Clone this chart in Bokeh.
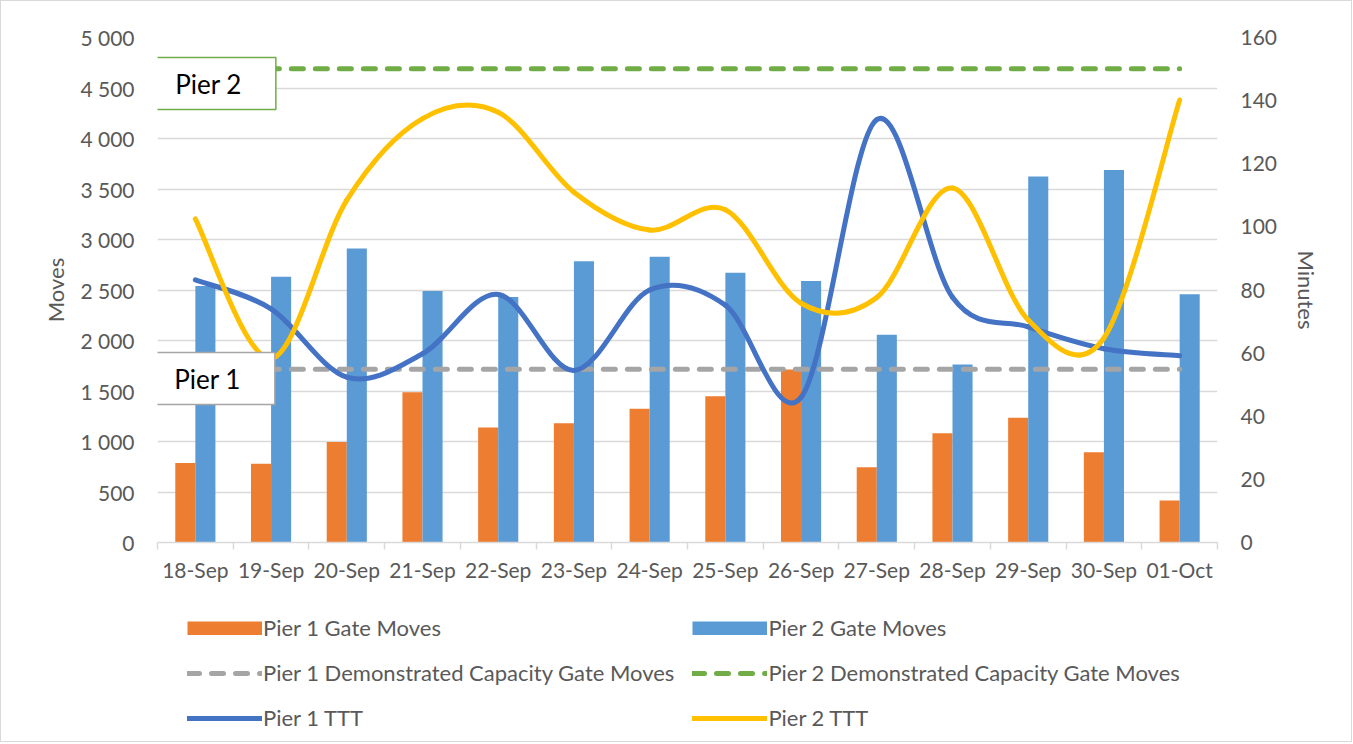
from bokeh.plotting import figure
from bokeh.layouts import column
from bokeh.models import (Range1d, LinearAxis, FixedTicker, Legend, LegendItem,
                          Label, ColumnDataSource)
from bokeh.transform import dodge
from bokeh.embed import file_html
from bokeh.resources import INLINE

# ---------------- data ----------------
dates = ["18-Sep", "19-Sep", "20-Sep", "21-Sep", "22-Sep", "23-Sep", "24-Sep",
         "25-Sep", "26-Sep", "27-Sep", "28-Sep", "29-Sep", "30-Sep", "01-Oct"]
pier1_gate_moves = [788, 780, 995, 1487, 1139, 1181, 1324, 1449, 1714, 746, 1082, 1234, 893, 417]
pier2_gate_moves = [2540, 2630, 2910, 2490, 2430, 2785, 2830, 2671, 2588, 2058, 1763, 3624, 3688, 2459]
pier1_capacity = 1715
pier2_capacity = 4690
pier1_ttt = [83.2, 74.0, 52.4, 59.8, 78.6, 54.5, 80.0, 75.2, 46.0, 134.0, 77.7, 68.3, 61.4, 59.2]
pier2_ttt = [102.5, 58.3, 108.5, 134.3, 136.3, 111.0, 99.0, 105.4, 75.8, 77.6, 112.3, 70.5, 64.8, 140.2]

moves_ticks = [0, 500, 1000, 1500, 2000, 2500, 3000, 3500, 4000, 4500, 5000]
moves_tick_labels = ["0", "500", "1 000", "1 500", "2 000", "2 500", "3 000",
                     "3 500", "4 000", "4 500", "5 000"]
minutes_ticks = [0, 20, 40, 60, 80, 100, 120, 140, 160]

series_labels = ["Pier 1 Gate Moves", "Pier 1 Demonstrated Capacity Gate Moves", "Pier 1 TTT",
                 "Pier 2 Gate Moves", "Pier 2 Demonstrated Capacity Gate Moves", "Pier 2 TTT"]

FONT = "Lato"
TXT = "#595959"
GRID = "#D9D9D9"
C_P1, C_P2 = "#ED7D31", "#5B9BD5"
C_CAP1, C_CAP2 = "#A5A5A5", "#70AD47"
C_T1, C_T2 = "#4472C4", "#FFC000"

n = len(dates)
xs = list(range(n))

src = ColumnDataSource(dict(
    x=xs,
    p1=pier1_gate_moves,
    p2=pier2_gate_moves,
    c1=[pier1_capacity] * n,
    c2=[pier2_capacity] * n,
    t1=pier1_ttt,
    t2=pier2_ttt,
))


def smooth(xv, yv):
    """Bezier segments (Catmull-Rom style, as a spreadsheet's smoothed line)."""
    m = len(xv)
    d = dict(x0=[], y0=[], x1=[], y1=[], cx0=[], cy0=[], cx1=[], cy1=[])
    for i in range(m - 1):
        ip = max(i - 1, 0)
        inx = min(i + 2, m - 1)
        d["x0"].append(xv[i]); d["y0"].append(yv[i])
        d["x1"].append(xv[i + 1]); d["y1"].append(yv[i + 1])
        d["cx0"].append(xv[i] + (xv[i + 1] - xv[ip]) / 6.0)
        d["cy0"].append(yv[i] + (yv[i + 1] - yv[ip]) / 6.0)
        d["cx1"].append(xv[i + 1] - (xv[inx] - xv[i]) / 6.0)
        d["cy1"].append(yv[i + 1] - (yv[inx] - yv[i]) / 6.0)
    return ColumnDataSource(d)


p = figure(frame_width=1060, frame_height=505, output_backend="svg", toolbar_location=None,
           x_range=Range1d(-0.5, n - 0.5), y_range=Range1d(0, 5000),
           min_border_left=156, min_border_right=134, min_border_top=36,
           min_border_bottom=34, y_axis_location=None)
p.outline_line_color = None
p.background_fill_color = "white"
p.border_fill_color = "white"
p.extra_y_ranges = {"minutes": Range1d(0, 160)}

# axes
left = LinearAxis(ticker=FixedTicker(ticks=moves_ticks), axis_label="Moves")
left.major_label_overrides = {t: l for t, l in zip(moves_ticks, moves_tick_labels)}
right = LinearAxis(y_range_name="minutes", ticker=FixedTicker(ticks=minutes_ticks),
                   axis_label="Minutes")
for ax in (left, right):
    ax.axis_line_color = None
    ax.major_tick_line_color = None
    ax.minor_tick_line_color = None
    ax.major_label_text_font = FONT
    ax.major_label_text_font_size = "21px"
    ax.major_label_text_color = TXT
    ax.axis_label_text_font = FONT
    ax.axis_label_text_font_size = "22px"
    ax.axis_label_text_color = TXT
    ax.axis_label_text_font_style = "normal"
    ax.major_label_standoff = 17
    ax.axis_label_standoff = 8
right.axis_label_standoff = 13
p.add_layout(left, "left")
p.add_layout(right, "right")

xa = p.xaxis[0]
xa.ticker = FixedTicker(ticks=xs, minor_ticks=[i - 0.5 for i in range(n + 1)])
xa.major_label_overrides = {i: d for i, d in zip(xs, dates)}
xa.major_tick_out = 0
xa.major_tick_in = 0
xa.minor_tick_out = 7
xa.minor_tick_in = 0
xa.minor_tick_line_color = GRID
xa.minor_tick_line_width = 1.5
xa.axis_line_color = GRID
xa.axis_line_width = 1.5
xa.major_label_text_font = FONT
xa.major_label_text_font_size = "21px"
xa.major_label_text_color = TXT
xa.major_label_standoff = 7

p.xgrid.grid_line_color = None
p.ygrid.ticker = FixedTicker(ticks=moves_ticks)
p.ygrid.grid_line_color = GRID
p.ygrid.grid_line_width = 1.5

# bars
bw = 0.265
p.vbar(x=dodge("x", -bw / 2), top="p1", width=bw, source=src,
       fill_color=C_P1, line_color=None)
p.vbar(x=dodge("x", bw / 2), top="p2", width=bw, source=src,
       fill_color=C_P2, line_color=None)

# capacity lines
p.line("x", "c1", source=src, line_color=C_CAP1, line_width=5,
       line_dash="12 12", line_cap="round")
p.line("x", "c2", source=src, line_color=C_CAP2, line_width=5,
       line_dash="12 12", line_cap="round")

# smoothed TTT lines (secondary axis)
p.bezier(x0="x0", y0="y0", x1="x1", y1="y1", cx0="cx0", cy0="cy0",
         cx1="cx1", cy1="cy1", source=smooth(xs, pier1_ttt),
         y_range_name="minutes", line_color=C_T1, line_width=5, line_cap="round")
p.bezier(x0="x0", y0="y0", x1="x1", y1="y1", cx0="cx0", cy0="cy0",
         cx1="cx1", cy1="cy1", source=smooth(xs, pier2_ttt),
         y_range_name="minutes", line_color=C_T2, line_width=5, line_cap="round")

# text boxes (screen offsets from the plot area's bottom-left corner)
for txt, sx, sy, col in (("Pier 2", 51, 459, C_CAP2), ("Pier 1", 50, 164, C_CAP1)):
    p.add_layout(Label(x=sx, y=sy, x_units="screen", y_units="screen", text=txt,
                       text_align="center", text_baseline="middle",
                       text_font=FONT, text_font_size="26px", text_color="black",
                       background_fill_color="white", border_line_color=col,
                       border_line_width=1.5, padding=(34, 10)))

# ---------------- legend strip below the chart ----------------
# Same series, drawn in a y-window where none of them falls: only their legend keys show.
lf = figure(width=1350, height=157, output_backend="svg", toolbar_location=None,
            x_range=Range1d(-0.5, n - 0.5), y_range=Range1d(-2, -1),
            min_border_left=156, min_border_right=134, min_border_top=0,
            min_border_bottom=0)
lf.axis.visible = False
lf.grid.visible = False
lf.outline_line_color = None
lf.border_fill_color = "white"
lf.background_fill_color = "white"

k1 = lf.line("x", "p1", source=src, line_color=C_P1, line_width=14)
k2 = lf.line("x", "c1", source=src, line_color=C_CAP1, line_width=5,
             line_dash="12 12", line_cap="round")
k3 = lf.line("x", "t1", source=src, line_color=C_T1, line_width=5, line_cap="round")
k4 = lf.line("x", "p2", source=src, line_color=C_P2, line_width=14)
k5 = lf.line("x", "c2", source=src, line_color=C_CAP2, line_width=5,
             line_dash="12 12", line_cap="round")
k6 = lf.line("x", "t2", source=src, line_color=C_T2, line_width=5, line_cap="round")

legend = Legend(items=[LegendItem(label=lab, renderers=[r])
                       for lab, r in zip(series_labels, [k1, k2, k3, k4, k5, k6])],
                location="top_left", orientation="vertical", ncols=2,
                glyph_width=75, glyph_height=14, label_height=27, label_width=400,
                label_standoff=1, spacing=18, padding=0, margin=30,
                border_line_color=None, background_fill_alpha=0,
                label_text_font=FONT, label_text_font_size="22px",
                label_text_color=TXT)
lf.add_layout(legend, "center")

layout = column(p, lf, styles={"border": "1px solid #D9D9D9"})
open("out.html", "w").write(file_html(layout, INLINE))
